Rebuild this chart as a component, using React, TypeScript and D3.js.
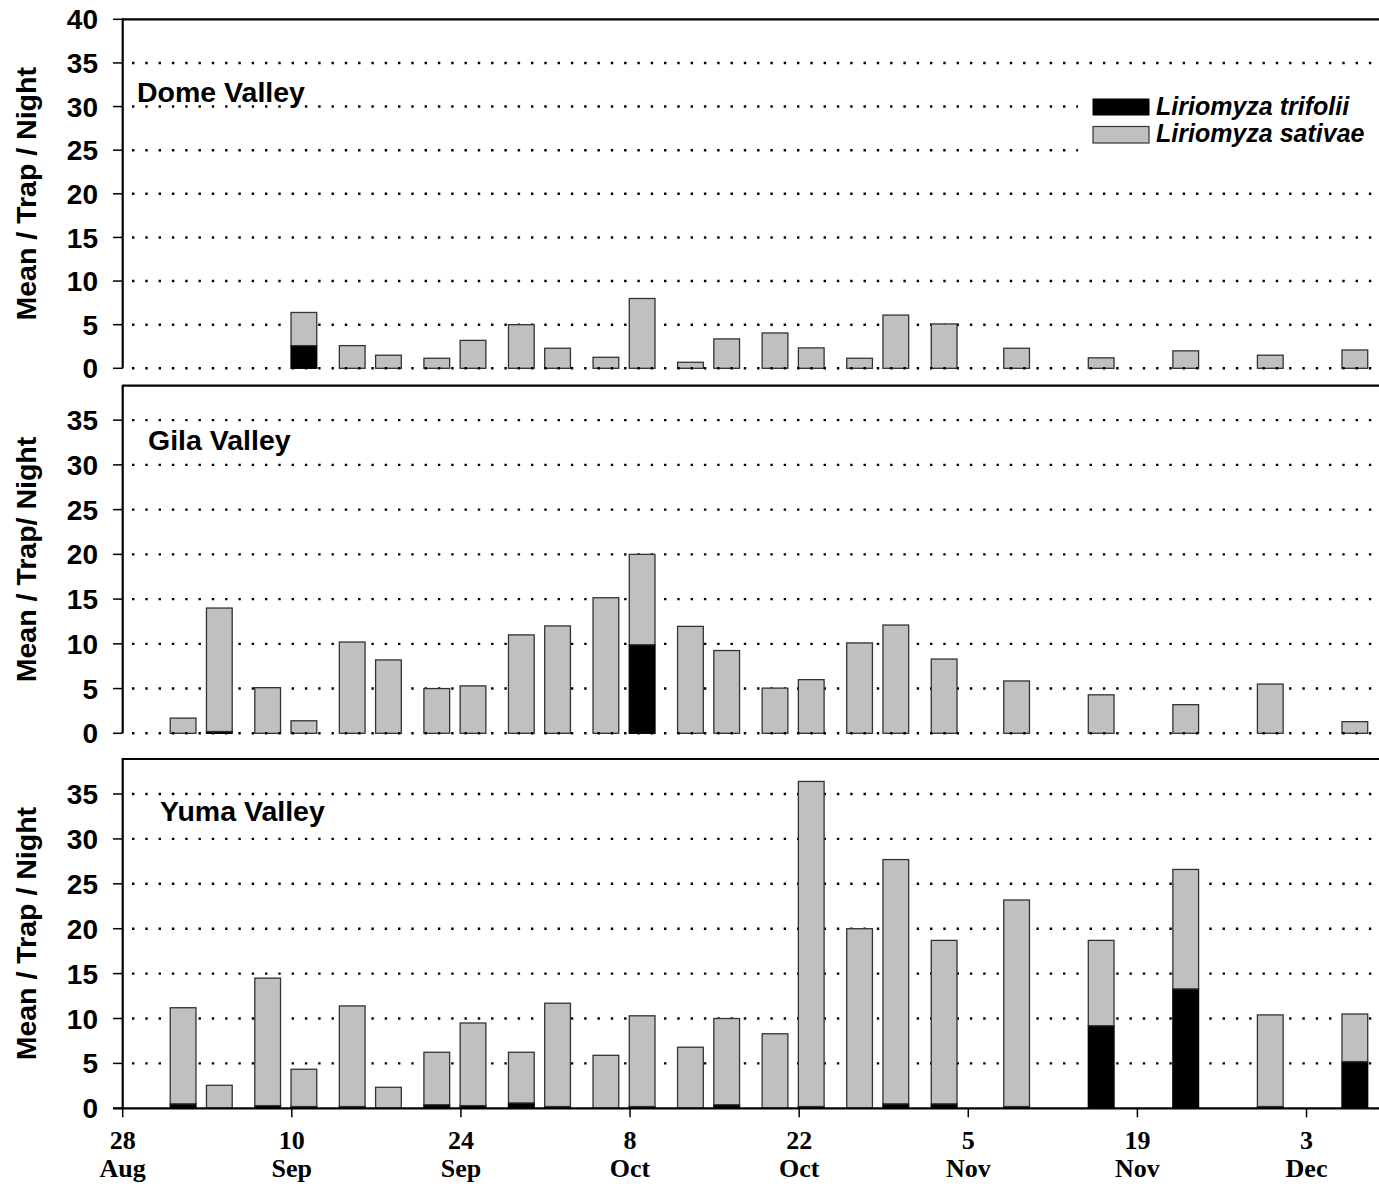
import * as d3 from "d3";

// ---- data (days counted from the "28 Aug" tick) ----
const tickDays = [0, 14, 28, 42, 56, 70, 84, 98];
const tickDayLabels = ["28", "10", "24", "8", "22", "5", "19", "3"];
const tickMonthLabels = ["Aug", "Sep", "Sep", "Oct", "Oct", "Nov", "Nov", "Dec"];

const speciesNames = ["Liriomyza trifolii", "Liriomyza sativae"];

const domeDays = [15, 19, 22, 26, 29, 33, 36, 40, 43, 47, 50, 54, 57, 61, 64, 68, 74, 81, 88, 95, 102];
const domeTrifolii = [2.6, 0, 0, 0, 0, 0, 0, 0, 0, 0, 0, 0, 0, 0, 0, 0, 0, 0, 0, 0, 0];
const domeSativae = [3.8, 2.6, 1.5, 1.15, 3.2, 5.0, 2.3, 1.26, 8.0, 0.69, 3.37, 4.05, 2.34, 1.15, 6.1, 5.08, 2.3, 1.2, 2.0, 1.5, 2.1];

const gilaDays = [5, 8, 12, 15, 19, 22, 26, 29, 33, 36, 40, 43, 47, 50, 54, 57, 61, 64, 68, 74, 81, 88, 95, 102];
const gilaTrifolii = [0, 0.2, 0, 0, 0, 0, 0, 0, 0, 0, 0, 9.9, 0, 0, 0, 0, 0, 0, 0, 0, 0, 0, 0, 0];
const gilaSativae = [1.7, 13.8, 5.1, 1.4, 10.2, 8.2, 5.0, 5.3, 11.0, 12.0, 15.15, 10.1, 11.95, 9.25, 5.05, 6.0, 10.1, 12.1, 8.3, 5.85, 4.3, 3.2, 5.5, 1.3];

const yumaDays = [5, 8, 12, 15, 19, 22, 26, 29, 33, 36, 40, 43, 47, 50, 54, 57, 61, 64, 68, 74, 81, 88, 95, 102];
const yumaTrifolii = [0.5, 0, 0.3, 0.2, 0.2, 0, 0.4, 0.3, 0.6, 0.2, 0, 0.2, 0, 0.4, 0, 0.2, 0, 0.5, 0.5, 0.2, 9.2, 13.3, 0.2, 5.2];
const yumaSativae = [10.7, 2.56, 14.2, 4.15, 11.2, 2.34, 5.84, 9.2, 5.64, 11.5, 5.9, 10.1, 6.8, 9.6, 8.3, 36.2, 20.0, 27.2, 18.2, 23.0, 9.5, 13.3, 10.2, 5.3];

const panels = [
  { name: "Dome Valley", yTitle: "Mean / Trap / Night", days: domeDays, trif: domeTrifolii, sat: domeSativae,
    top: 19.3, bottom: 368.3, max: 40, ticks: [0, 5, 10, 15, 20, 25, 30, 35, 40], titleX: 137, titleY: 102 },
  { name: "Gila Valley", yTitle: "Mean / Trap/ Night", days: gilaDays, trif: gilaTrifolii, sat: gilaSativae,
    top: 385.7, bottom: 733.3, max: 38.85, ticks: [0, 5, 10, 15, 20, 25, 30, 35], titleX: 148, titleY: 450 },
  { name: "Yuma Valley", yTitle: "Mean / Trap / Night", days: yumaDays, trif: yumaTrifolii, sat: yumaSativae,
    top: 759, bottom: 1108.3, max: 38.9, ticks: [0, 5, 10, 15, 20, 25, 30, 35], titleX: 160, titleY: 821 },
];

const W = 1379;
const H = 1187;
const left = 122.7;
const sans = "'Liberation Sans', Arial, sans-serif";
const serif = "'Liberation Serif', 'Times New Roman', serif";
const grey = "#c0c0c0";

const x = d3.scaleLinear().domain([0, 104]).range([left, W]);
const barW = x(2.13) - x(0);

function Panel({ p, last }) {
  const y = d3.scaleLinear().domain([0, p.max]).range([p.bottom, p.top]);
  const rows = p.days.map((d, i) => ({ day: d, trif: p.trif[i], sat: p.sat[i] }));
  const stacked = d3.stack().keys(["trif", "sat"])(rows);
  const dotted = { stroke: "#000", strokeWidth: 2.4, strokeDasharray: "2.4 10.9" };
  return (
    <g>
      {/* grid */}
      {p.ticks.filter((t) => t > 0 && t < 40).map((t) => (
        <line key={t} x1={132} x2={W} y1={y(t)} y2={y(t)} {...dotted} />
      ))}
      {/* bars */}
      {stacked.map((layer, li) => (
        <g key={li}>
          {layer.map((s, i) =>
            s[1] - s[0] > 0 ? (
              <rect key={i} x={x(s.data.day) - barW / 2} y={y(s[1])} width={barW} height={y(s[0]) - y(s[1])}
                fill={li === 0 ? "#000" : grey} stroke={li === 0 ? "#000" : "#333"} strokeWidth={1.3} />
            ) : null
          )}
        </g>
      ))}
      {/* zero line */}
      {last ? (
        <line x1={113} x2={W} y1={y(0)} y2={y(0)} stroke="#000" strokeWidth={2.2} />
      ) : (
        <line x1={132} x2={W} y1={y(0)} y2={y(0)} {...dotted} />
      )}
      {/* frame */}
      <line x1={left} x2={W} y1={p.top} y2={p.top} stroke="#000" strokeWidth={2.2} />
      <line x1={left} x2={left} y1={p.top - 1} y2={p.bottom} stroke="#000" strokeWidth={2.2} />
      {p.ticks.map((t) => (
        <g key={t}>
          <line x1={113} x2={left} y1={y(t)} y2={y(t)} stroke="#000" strokeWidth={1.5} />
          <text x={98} y={y(t)} dy="0.36em" textAnchor="end" fontFamily={sans} fontWeight="bold" fontSize={28}>{t}</text>
        </g>
      ))}
      <text x={p.titleX} y={p.titleY} fontFamily={sans} fontWeight="bold" fontSize={28.5}>{p.name}</text>
      <text transform={`translate(36,${(p.top + p.bottom) / 2}) rotate(-90)`} textAnchor="middle"
        fontFamily={sans} fontWeight="bold" fontSize={28.5}>{p.yTitle}</text>
      {last &&
        tickDays.map((d, i) => (
          <g key={d}>
            <line x1={x(d)} x2={x(d)} y1={p.bottom} y2={p.bottom + 9} stroke="#000" strokeWidth={1.5} />
            <text x={x(d)} y={1149} textAnchor="middle" fontFamily={serif} fontWeight="bold" fontSize={26}>{tickDayLabels[i]}</text>
            <text x={x(d)} y={1177} textAnchor="middle" fontFamily={serif} fontWeight="bold" fontSize={26}>{tickMonthLabels[i]}</text>
          </g>
        ))}
    </g>
  );
}

export default function App() {
  return (
    <svg width={W} height={H} style={{ position: "absolute", left: 0, top: 0, background: "#fff" }}>
      <rect width={W} height={H} fill="#fff" />
      {panels.map((p, i) => (
        <Panel key={p.name} p={p} last={i === panels.length - 1} />
      ))}
      {/* legend */}
      <rect x={1078} y={90} width={W - 1078} height={68} fill="#fff" />
      <rect x={1093} y={99} width={56} height={16} fill="#000" stroke="#000" />
      <rect x={1093} y={126.5} width={56} height={16.5} fill={grey} stroke="#333" strokeWidth={1.2} />
      <text x={1156} y={115} fontFamily={sans} fontWeight="bold" fontStyle="italic" fontSize={25}>{speciesNames[0]}</text>
      <text x={1156} y={142} fontFamily={sans} fontWeight="bold" fontStyle="italic" fontSize={25}>{speciesNames[1]}</text>
    </svg>
  );
}
